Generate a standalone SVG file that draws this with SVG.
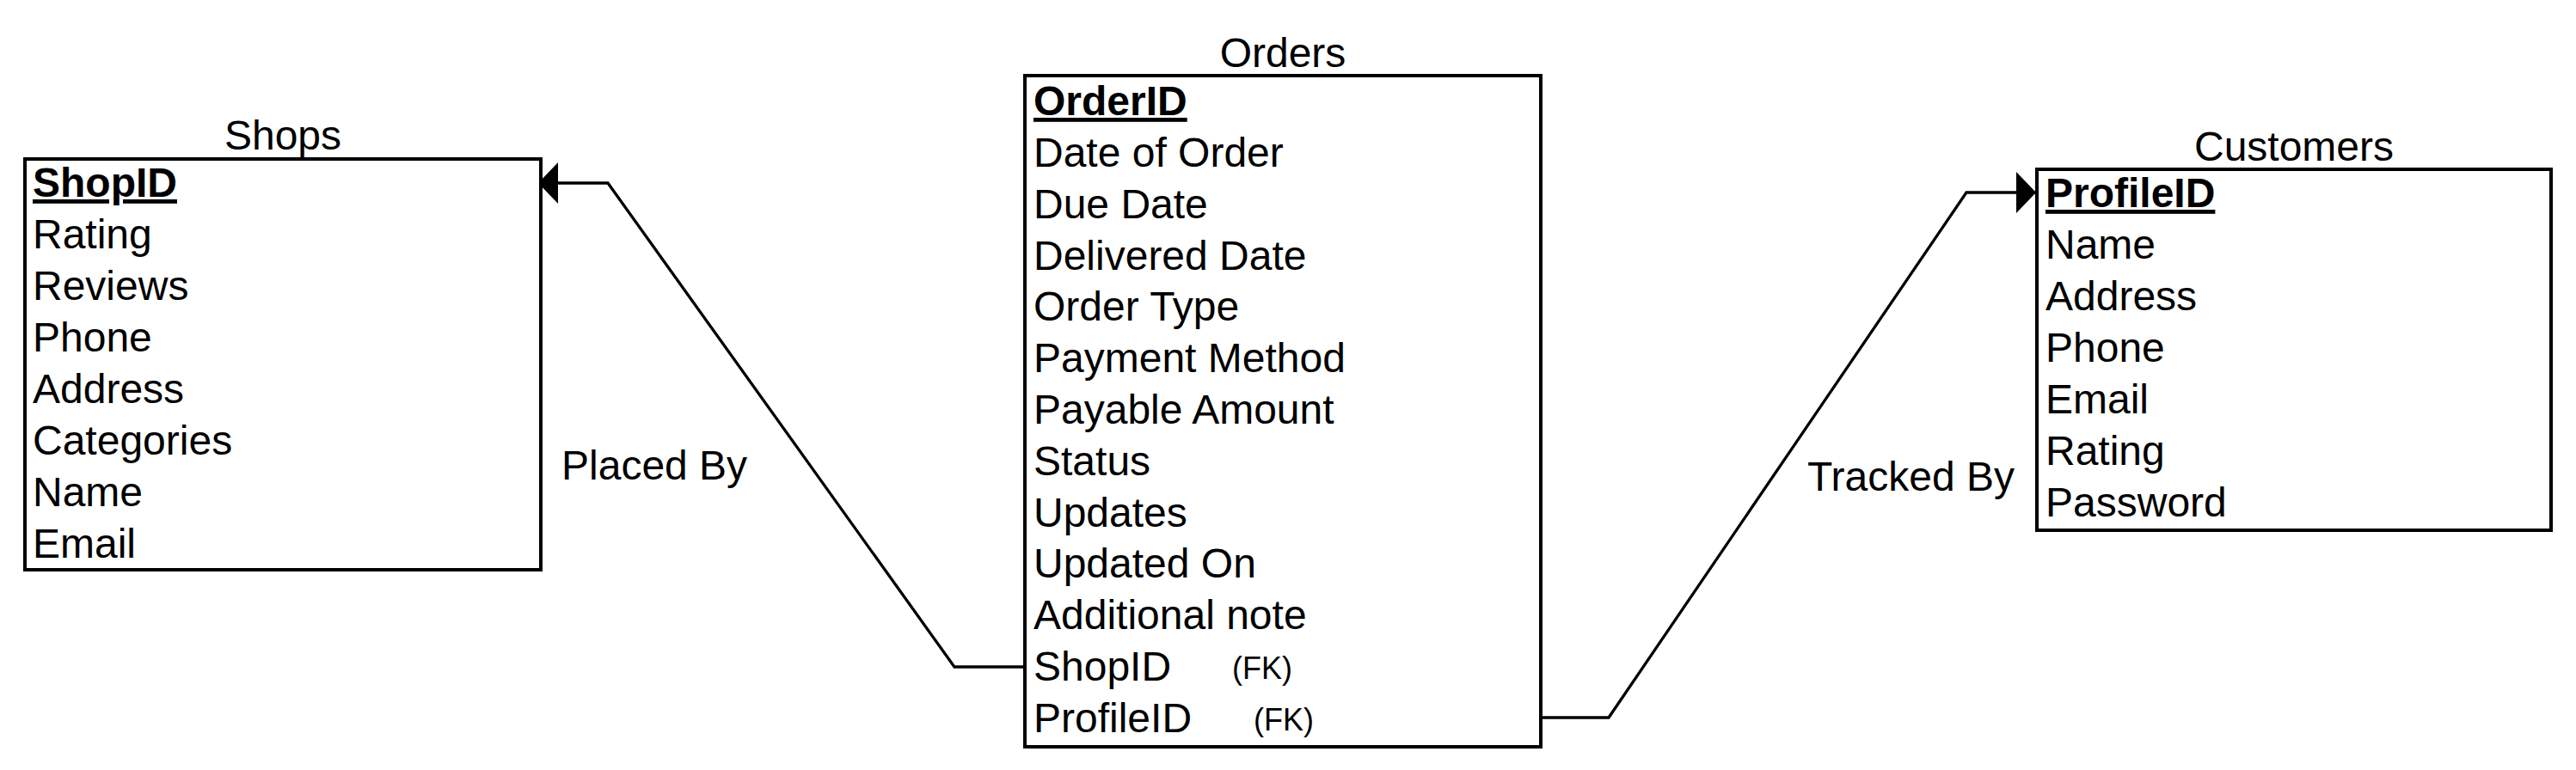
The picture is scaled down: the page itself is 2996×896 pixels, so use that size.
<svg xmlns="http://www.w3.org/2000/svg" width="2996" height="896" viewBox="0 0 2996 896">
<defs>
<style>
text{font-family:"Liberation Sans",Arial,sans-serif;font-size:48px;fill:#000}
.title{text-anchor:middle}
.pk{font-weight:bold;text-decoration:underline}
.fk{font-size:36px}
.box{fill:#fff;stroke:#000;stroke-width:4}
.conn{fill:none;stroke:#000;stroke-width:3.3}
</style>
<marker id="arrow" viewBox="0 0 23 48" refX="23" refY="24" markerWidth="23" markerHeight="48" markerUnits="userSpaceOnUse" orient="auto">
<path d="M0,0 L23,24 L0,48 z" fill="#000"/>
</marker>
</defs>
<rect width="2996" height="896" fill="#fff"/>
<g id="connectors">
<path class="conn" d="M1192,776 H1110 L707,213 H626" marker-end="url(#arrow)"/>
<path class="conn" d="M1792,835 H1871 L2287,224 H2368" marker-end="url(#arrow)"/>
<text x="653" y="558">Placed By</text>
<text x="2102" y="571">Tracked By</text>
</g>
<g id="shops">
<text class="title" x="329" y="174">Shops</text>
<rect class="box" x="29" y="185" width="600" height="478"/>
<text x="38" y="229" class="pk">ShopID</text>
<text x="38" y="289">Rating</text>
<text x="38" y="349">Reviews</text>
<text x="38" y="409">Phone</text>
<text x="38" y="469">Address</text>
<text x="38" y="529">Categories</text>
<text x="38" y="589">Name</text>
<text x="38" y="649">Email</text>
</g>
<g id="orders">
<text class="title" x="1492" y="78">Orders</text>
<rect class="box" x="1192" y="88" width="600" height="781"/>
<text x="1202" y="134" class="pk">OrderID</text>
<text x="1202" y="194">Date of Order</text>
<text x="1202" y="254">Due Date</text>
<text x="1202" y="314">Delivered Date</text>
<text x="1202" y="373">Order Type</text>
<text x="1202" y="433">Payment Method</text>
<text x="1202" y="493">Payable Amount</text>
<text x="1202" y="553">Status</text>
<text x="1202" y="613">Updates</text>
<text x="1202" y="672">Updated On</text>
<text x="1202" y="732">Additional note</text>
<text x="1202" y="792">ShopID<tspan class="fk" x="1433" y="790">(FK)</tspan></text>
<text x="1202" y="852">ProfileID<tspan class="fk" x="1458" y="850">(FK)</tspan></text>
</g>
<g id="customers">
<text class="title" x="2668" y="187">Customers</text>
<rect class="box" x="2369" y="197" width="598" height="420"/>
<text x="2379" y="241" class="pk">ProfileID</text>
<text x="2379" y="301">Name</text>
<text x="2379" y="361">Address</text>
<text x="2379" y="421">Phone</text>
<text x="2379" y="481">Email</text>
<text x="2379" y="541">Rating</text>
<text x="2379" y="601">Password</text>
</g>
</svg>
